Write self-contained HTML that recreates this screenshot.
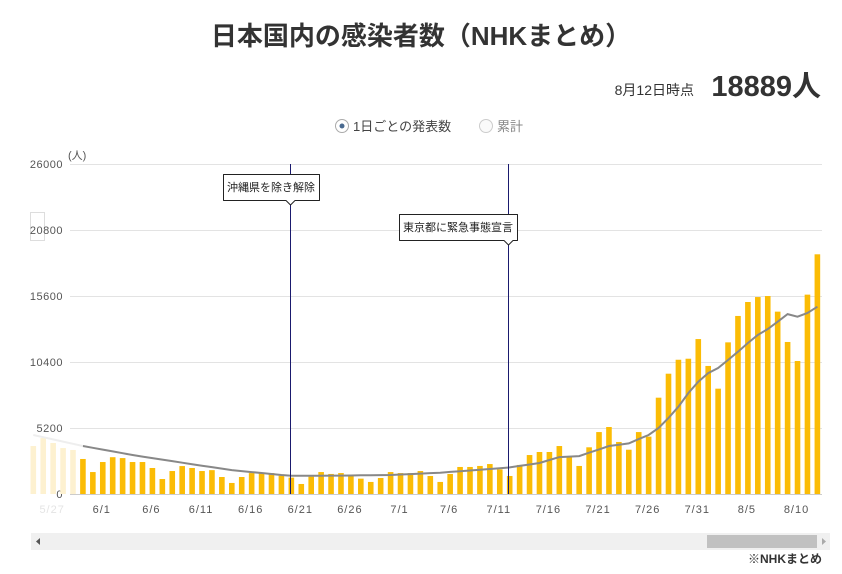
<!DOCTYPE html>
<html><head><meta charset="utf-8">
<style>
html,body{margin:0;padding:0;background:#fff;width:842px;height:574px;overflow:hidden;}
svg{display:block;font-family:"Liberation Sans","Noto Sans CJK JP",sans-serif;}
</style></head><body>
<svg id="s" width="842" height="574" viewBox="0 0 842 574" xmlns="http://www.w3.org/2000/svg">
<text x="421" y="45" text-anchor="middle" font-size="26" font-weight="bold" fill="#333">日本国内の感染者数（NHKまとめ）</text>
<text x="694" y="95" text-anchor="end" font-size="14" fill="#333">8月12日時点</text>
<text x="821" y="96" text-anchor="end" font-size="29" font-weight="bold" fill="#333">18889人</text>
<circle cx="342" cy="126" r="6.5" fill="#fff" stroke="#aaa"/>
<circle cx="342" cy="126" r="2.5" fill="#4a6a90"/>
<text x="353" y="131" font-size="13" fill="#444">1日ごとの発表数</text>
<circle cx="486" cy="126" r="6.5" fill="#fafafa" stroke="#ccc"/>
<text x="497" y="131" font-size="13" fill="#888">累計</text>
<g id="grid" stroke="#e3e3e3" stroke-width="1"></g>
<rect x="30.5" y="212.5" width="14" height="28" fill="#fff" stroke="#ddd"/>
<g id="ylab" font-size="11" fill="#555" text-anchor="end" letter-spacing="0.5"></g>
<text x="68" y="159" font-size="11" fill="#555">(人)</text>
<g id="bars"></g>
<polyline id="avg" fill="none" stroke="#888" stroke-width="2"/>
<polyline id="avgf" fill="none" stroke="#eee" stroke-width="2"/>
<line x1="70" y1="494.5" x2="822" y2="494.5" stroke="#ccc"/>
<g id="xlab" font-size="11" fill="#555" text-anchor="middle" letter-spacing="1"></g>
<line x1="290.5" y1="164" x2="290.5" y2="494" stroke="#1a1a6e"/>
<line x1="508.5" y1="164" x2="508.5" y2="494" stroke="#1a1a6e"/>
<path d="M223.5 174.5 H319.5 V200.5 H295 L290.5 205 L286 200.5 H223.5 Z" fill="#fff" stroke="#222" stroke-linejoin="round"/>
<text x="271" y="191" font-size="11" text-anchor="middle" fill="#222">沖縄県を除き解除</text>
<path d="M399.5 214.5 H517.5 V240.5 H513 L508.5 245 L504 240.5 H399.5 Z" fill="#fff" stroke="#222" stroke-linejoin="round"/>
<text x="458" y="231" font-size="11" text-anchor="middle" fill="#222">東京都に緊急事態宣言</text>
<rect x="31" y="533" width="799" height="17" fill="#f0f0f0"/>
<rect x="707" y="535" width="110" height="13" fill="#c1c1c1"/>
<path d="M40 538 L36 541.5 L40 545 Z" fill="#555"/>
<path d="M822 538 L826 541.5 L822 545 Z" fill="#aaa"/>
<text x="822" y="563" text-anchor="end" font-size="12" font-weight="bold" fill="#333">※NHKまとめ</text>
</svg>
<script>
var NS="http://www.w3.org/2000/svg";
function el(t,a,p,txt){var e=document.createElementNS(NS,t);for(var k in a)e.setAttribute(k,a[k]);if(txt)e.textContent=txt;document.getElementById(p).appendChild(e);return e;}
var Y=function(v){return 494-v*0.01269;};
[0,5200,10400,15600,20800,26000].forEach(function(v){
 if(v>0)el("line",{x1:70,x2:822,y1:Math.round(Y(v))+.5,y2:Math.round(Y(v))+.5},"grid");
 el("text",{x:63,y:Y(v)+4},"ylab",String(v));
});
var d=[3780,4410,4020,3620,3470,2760,1730,2520,2900,2830,2520,2520,2050,1180,1810,2200,2050,1810,1880,1340,870,1340,1650,1650,1650,1440,1290,790,1370,1730,1580,1650,1520,1210,950,1260,1730,1650,1650,1810,1420,950,1580,2130,2130,2210,2360,1940,1420,2290,3070,3310,3310,3780,2940,2210,3680,4880,5280,4100,3490,4880,4520,7590,9480,10580,10660,12210,10090,8300,11950,14030,15130,15520,15600,14370,11980,10480,15710,18889];
var X=function(i){return 33.3+i*9.925;};
d.forEach(function(v,i){var y=Y(v);el("rect",{x:X(i)-2.8,y:y,width:5.6,height:494-y,fill:i<5?"#fdf1d0":"#fbbc05"},"bars");});
var a={0:4650,5:3780,10:3070,15:2470,20:1880,25:1500,26:1440,31:1450,36:1500,41:1680,46:1970,48:2100,51:2440,52:2680,53:2910,55:2990,58:3780,60:3990,61:4330,62:4650,63:5200,64:5990,65:6880,66:7960,67:8850,68:9530,69:9930,70:10560,71:11210,72:11900,73:12530,74:13000,75:13580,76:14180,77:13970,78:14260,79:14760};
var ks=Object.keys(a).map(Number).sort(function(p,q){return p-q;});
var pts=[],pf=[];
for(var i=0;i<80;i++){var k0,k1;for(var j=0;j<ks.length-1;j++){if(i>=ks[j]&&i<=ks[j+1]){k0=ks[j];k1=ks[j+1];break;}}
 var v=a[k0]+(a[k1]-a[k0])*(i-k0)/(k1-k0);var p=X(i).toFixed(1)+","+Y(v).toFixed(1);
 if(i<=5)pf.push(p);if(i>=5)pts.push(p);}
document.getElementById("avg").setAttribute("points",pts.join(" "));
document.getElementById("avgf").setAttribute("points",pf.join(" "));
var labs=[[2,"5/27"],[7,"6/1"],[12,"6/6"],[17,"6/11"],[22,"6/16"],[27,"6/21"],[32,"6/26"],[37,"7/1"],[42,"7/6"],[47,"7/11"],[52,"7/16"],[57,"7/21"],[62,"7/26"],[67,"7/31"],[72,"8/5"],[77,"8/10"]];
labs.forEach(function(l){var t=el("text",{x:X(l[0])-1,y:513},"xlab",l[1]);if(l[0]==2)t.setAttribute("fill","#e4e4e4");});
</script>
</body></html>
